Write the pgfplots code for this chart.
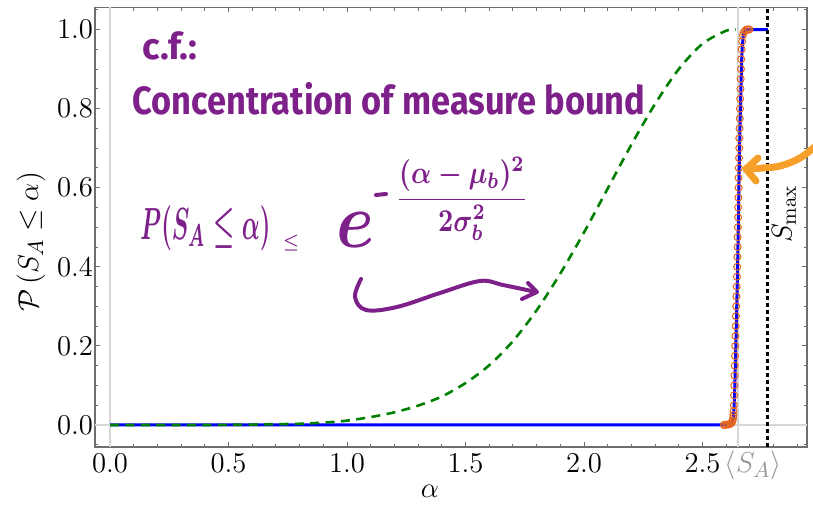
\documentclass[border=0pt]{standalone}
\usepackage{fontspec}
\usepackage{graphicx}
\usepackage{pgfplots}
\pgfplotsset{compat=1.18}
\newfontfamily\hand{Fira Sans}
\definecolor{hand}{RGB}{126,32,138}
\definecolor{dataorange}{RGB}{232,102,30}
\definecolor{arroworange}{RGB}{246,160,42}
\definecolor{darkgreen}{RGB}{0,128,0}
\definecolor{framegray}{RGB}{110,110,110}
\definecolor{gridgray}{RGB}{215,215,215}
\definecolor{labelgray}{RGB}{150,150,150}
\begin{document}
\begin{tikzpicture}
\begin{axis}[
  at={(0,0)}, anchor=south west,
  scale only axis, width=356bp, height=219.75bp,
  xmin=-0.0633, xmax=2.9409, ymin=-0.0557, ymax=1.0557,
  axis line style={framegray, line width=0.6bp},
  every tick/.style={framegray, line width=0.5bp},
  major tick length=2.5bp, minor tick length=1.6bp,
  tick align=inside,
  xtick={0,0.5,1,1.5,2,2.5},
  xticklabels={$0.0$,$0.5$,$1.0$,$1.5$,$2.0$,$2.5$},
  minor xtick={0.1,0.2,0.3,0.4,0.6,0.7,0.8,0.9,1.1,1.2,1.3,1.4,1.6,1.7,1.8,1.9,2.1,2.2,2.3,2.4,2.6,2.7,2.8,2.9},
  ytick={0,0.2,0.4,0.6,0.8,1},
  yticklabels={$0.0$,$0.2$,$0.4$,$0.6$,$0.8$,$1.0$},
  minor ytick={-0.05,0.05,0.1,0.15,0.25,0.3,0.35,0.45,0.5,0.55,0.65,0.7,0.75,0.85,0.9,0.95,1.05},
  tick label style={font=\fontsize{15}{18}\selectfont},
  xticklabel style={anchor=base, yshift=-12.5bp},
  yticklabel style={xshift=2.5bp},
  extra x ticks={2.65},
  extra x tick labels={\hspace*{15bp}\textcolor{labelgray}{$\langle S_A\rangle$}},
  extra x tick style={major tick length=0pt},
  clip=false,
]
% light axes / grid line
\addplot[gridgray, line width=0.75bp] coordinates {(0,-0.0557) (0,1.0557)};
\addplot[gridgray, line width=0.75bp] coordinates {(-0.0633,0) (2.9409,0)};
\addplot[gridgray, line width=0.75bp] coordinates {(2.65,-0.0557) (2.65,1.0557)};
% empirical points
\addplot[only marks, mark=o, mark size=1.75bp, dataorange, mark options={line width=0.5bp}] coordinates {
(2.590,0.000) (2.596,0.000) (2.602,0.001) (2.608,0.001) (2.613,0.002) (2.618,0.003)
(2.622,0.005) (2.625,0.008) (2.627,0.012) (2.629,0.018) (2.630,0.025) (2.631,0.035)
(2.632,0.050) (2.633,0.075) (2.634,0.100) (2.635,0.125) (2.636,0.150) (2.637,0.175)
(2.638,0.200) (2.639,0.225) (2.640,0.250) (2.641,0.275) (2.642,0.300) (2.643,0.325)
(2.644,0.350) (2.645,0.375) (2.646,0.400) (2.647,0.425) (2.648,0.450) (2.648,0.475)
(2.649,0.500) (2.650,0.525) (2.650,0.550) (2.651,0.575) (2.652,0.600) (2.652,0.625)
(2.653,0.650) (2.654,0.675) (2.655,0.700) (2.655,0.725) (2.656,0.750) (2.657,0.775)
(2.658,0.800) (2.659,0.825) (2.660,0.850) (2.661,0.875) (2.662,0.900) (2.663,0.925)
(2.665,0.950) (2.667,0.970) (2.670,0.985) (2.674,0.993) (2.680,0.997) (2.686,1.000)
(2.692,1.000) (2.698,1.000)};
% blue CDF
\addplot[blue, line width=1.5bp] coordinates {
(0,0) (2.620,0) (2.628,0.005) (2.632,0.03) (2.635,0.07) (2.637,0.114) (2.642,0.24)
(2.647,0.367) (2.651,0.50) (2.654,0.62) (2.658,0.75) (2.662,0.85) (2.665,0.92)
(2.668,0.96) (2.672,0.985) (2.676,0.996) (2.680,1.0) (2.776,1.0)};
% green bound
\addplot[darkgreen, line width=1.3bp, dash pattern=on 4.5bp off 3.2bp, smooth] coordinates {
(0.0,0.000) (0.2,0.000) (0.4,0.000) (0.6,0.001) (0.7,0.002) (0.8,0.003) (0.9,0.006)
(1.0,0.011) (1.1,0.020) (1.2,0.032) (1.3,0.049) (1.4,0.072) (1.5,0.106) (1.6,0.151)
(1.7,0.212) (1.8,0.290) (1.9,0.383) (2.0,0.487) (2.1,0.598) (2.2,0.709) (2.3,0.812)
(2.4,0.900) (2.5,0.964) (2.6,0.997) (2.64,1.000)};
% S_max
\addplot[black, line width=1.5bp, dash pattern=on 2bp off 1.5bp] coordinates {(2.776,-0.0557) (2.776,1.0557)};
\end{axis}
\pgfresetboundingbox
\begin{scope}[shift={(-47.5bp,223.5bp)}, x=0.5bp, y=-0.5bp]
\path[use as bounding box] (0,0) rectangle (813,506);
\node[rotate=90, font=\fontsize{15}{18}\selectfont] at (31,242) {$\mathcal{P}\,(S_A \leq \alpha)$};
\node[font=\fontsize{15}{18}\selectfont] at (430,491) {$\alpha$};
\node[rotate=90, font=\fontsize{15}{18}\selectfont] at (784,214) {$S_{\max}$};
% handwritten notes
\node[anchor=base west, inner sep=0, text=hand] at (142,60) {\resizebox{27.5bp}{!}{\hand\bfseries c.f.:}};
\node[anchor=base west, inner sep=0, text=hand] at (132,115) {\resizebox{256.5bp}{16bp}{\hand\bfseries Concentration of measure bound}};
\node[anchor=south west, inner sep=0, text=hand] at (140,251) {\resizebox*{65bp}{22.5bp}{\boldmath$P(S_A\le\alpha)$}};
\node[inner sep=0, text=hand] at (291,243) {\resizebox{8bp}{!}{\boldmath$\le$}};
\node[inner sep=0, text=hand] at (356,230) {\resizebox*{19bp}{17.5bp}{\boldmath$e$}};
\draw[hand, line width=2bp, line cap=round] (376,195) -- (386,194);
\node[inner sep=0, text=hand] at (462,199) {\resizebox*{66bp}{41.5bp}{\boldmath$\displaystyle\frac{(\alpha-\mu_b)^2}{2\sigma_b^2}$}};
\draw[hand, line width=2bp, line cap=round, line join=round] plot[smooth, tension=0.6] coordinates {(361,279) (355,297) (366,310) (397,307) (440,293) (480,281) (503,285) (536,292)};
\draw[hand, line width=2bp, line cap=round, line join=round] (528,283) -- (537,292) -- (522,299);
\draw[arroworange, line width=3.5bp, line cap=round] plot[smooth, tension=0.6] coordinates {(818,144) (800,158) (780,166) (763,168) (748,169)};
\draw[arroworange, line width=3.5bp, line cap=round, line join=round] (758,158) -- (746,169) -- (756,181);
\end{scope}
\end{tikzpicture}
\end{document}
